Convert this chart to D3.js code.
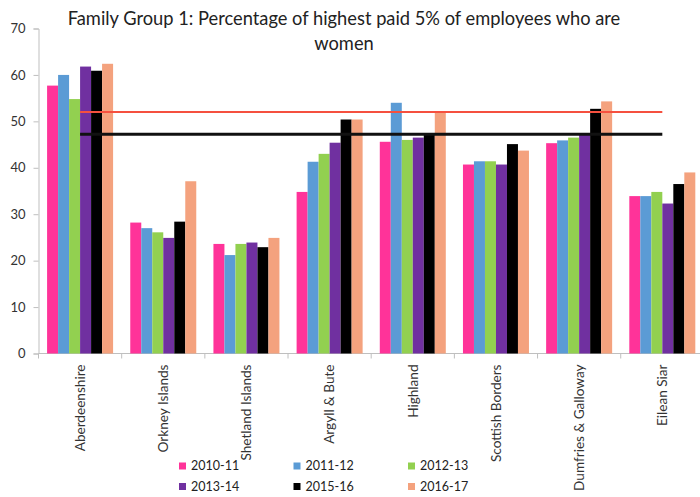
<!DOCTYPE html>
<html>
<head>
<meta charset="utf-8">
<script src="https://cdn.jsdelivr.net/npm/d3@7"></script>
<style>
  html, body { margin: 0; padding: 0; background: #fff; }
  svg { display: block; font-family: Lato, "Open Sans", sans-serif; }
</style>
</head>
<body>
<svg id="chart" width="700" height="497"></svg>
<script>
// Council areas in Family Group 1
const categories = ["Aberdeenshire", "Orkney Islands", "Shetland Islands", "Argyll & Bute",
  "Highland", "Scottish Borders", "Dumfries & Galloway", "Eilean Siar"];

// Financial years shown as series
const years = ["2010-11", "2011-12", "2012-13", "2013-14", "2015-16", "2016-17"];
const yearColors = ["#ff3399", "#5b9bd5", "#92d050", "#7030a0", "#000000", "#f4a27e"];

// % of highest paid 5% of employees who are women, per year, in category order
const y2010_11 = [57.7, 28.2, 23.6, 34.8, 45.6, 40.7, 45.3, 33.9];
const y2011_12 = [60.0, 27.0, 21.2, 41.3, 54.0, 41.4, 45.9, 33.9];
const y2012_13 = [54.8, 26.1, 23.6, 43.0, 46.0, 41.4, 46.5, 34.8];
const y2013_14 = [61.8, 24.9, 23.9, 45.4, 46.5, 40.7, 47.1, 32.3];
const y2015_16 = [60.9, 28.4, 22.9, 50.4, 47.1, 45.1, 52.7, 36.5];
const y2016_17 = [62.4, 37.1, 24.9, 50.4, 51.9, 43.7, 54.3, 39.0];
const seriesValues = [y2010_11, y2011_12, y2012_13, y2013_14, y2015_16, y2016_17];

// Horizontal reference levels
const refRed = 52.0;
const refBlack = 47.2;

// Y axis ticks
const yTicks = [0, 10, 20, 30, 40, 50, 60, 70];

const svg = d3.select("#chart");

const x0 = d3.scaleBand().domain(categories).range([38.5, 703.9])
  .paddingInner(0.2065).paddingOuter(0.10325);
const x1 = d3.scaleBand().domain(years).range([0, x0.bandwidth()]);
const y = d3.scaleLinear().domain([0, 70]).range([353.5, 28.5]);

// Title
const title = svg.append("g").attr("fill", "#222").attr("font-size", 18.3)
  .attr("text-anchor", "middle");
title.append("text").attr("x", 344).attr("y", 25)
  .text("Family Group 1: Percentage of highest paid 5% of employees who are");
title.append("text").attr("x", 344).attr("y", 50).text("women");

// Y axis
const yAxis = svg.append("g").attr("transform", "translate(38.5,0)")
  .call(d3.axisLeft(y).tickValues(yTicks).tickSize(5).tickPadding(8));
yAxis.select(".domain").attr("stroke", "#bfbfbf");
yAxis.selectAll(".tick line").attr("stroke", "#bfbfbf");
yAxis.selectAll(".tick text").attr("font-size", 13).attr("fill", "#333")
  .attr("font-family", "Lato, sans-serif");

// X axis baseline and category dividers
const xAxis = svg.append("g");
xAxis.append("line").attr("x1", 38.5).attr("x2", 703.9)
  .attr("y1", y(0)).attr("y2", y(0)).attr("stroke", "#bfbfbf");
xAxis.selectAll("line.div").data(d3.range(categories.length + 1)).join("line")
  .attr("class", "div")
  .attr("x1", i => 38.5 + i * x0.step()).attr("x2", i => 38.5 + i * x0.step())
  .attr("y1", y(0)).attr("y2", y(0) + 5).attr("stroke", "#bfbfbf");

// Bars
const groups = svg.append("g").selectAll("g").data(categories).join("g")
  .attr("transform", d => `translate(${x0(d)},0)`);
groups.selectAll("rect")
  .data((c, ci) => years.map((yr, si) => ({ yr, si, v: seriesValues[si][ci] })))
  .join("rect")
  .attr("x", d => x1(d.yr))
  .attr("width", x1.bandwidth())
  .attr("y", d => y(d.v))
  .attr("height", d => y(0) - y(d.v))
  .attr("fill", d => yearColors[d.si]);

// Reference lines spanning first to last category centre
const xStart = x0(categories[0]) + x0.bandwidth() / 2;
const xEnd = x0(categories[categories.length - 1]) + x0.bandwidth() / 2;
svg.append("line").attr("x1", xStart).attr("x2", xEnd)
  .attr("y1", y(refRed)).attr("y2", y(refRed))
  .attr("stroke", "#f5503f").attr("stroke-width", 2);
svg.append("line").attr("x1", xStart).attr("x2", xEnd)
  .attr("y1", y(refBlack)).attr("y2", y(refBlack))
  .attr("stroke", "#111").attr("stroke-width", 3);

// Category labels, rotated
svg.append("g").selectAll("text").data(categories).join("text")
  .attr("transform", d => `translate(${x0(d) + x0.bandwidth() / 2},${y(0) + 11}) rotate(-90)`)
  .attr("text-anchor", "end").attr("dy", "0.35em")
  .attr("font-size", 13.6).attr("fill", "#333")
  .text(d => d);

// Legend
const legend = svg.append("g").selectAll("g").data(years).join("g")
  .attr("transform", (d, i) => `translate(${179 + (i % 3) * 114.5},${466 + Math.floor(i / 3) * 20.5})`);
legend.append("rect").attr("x", 0).attr("y", -3.5).attr("width", 7).attr("height", 7)
  .attr("fill", (d, i) => yearColors[i]);
legend.append("text").attr("x", 12).attr("dy", "0.35em")
  .attr("font-size", 12.5).attr("fill", "#222").text(d => d);
</script>
</body>
</html>
